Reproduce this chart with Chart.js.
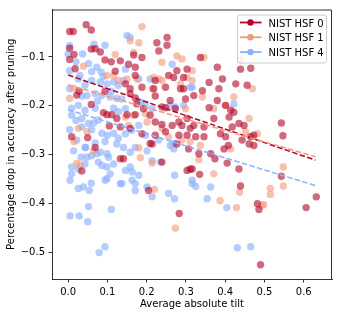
<!DOCTYPE html>
<html>
<head>
<meta charset="utf-8">
<script src="https://cdn.jsdelivr.net/npm/chart.js@4.4.1/dist/chart.umd.min.js"></script>
<style>
html,body{margin:0;padding:0;background:#fff;}
canvas{display:block;}
</style>
</head>
<body>
<canvas id="c" width="338" height="317"></canvas>
<script>
const seriesLabels = ['NIST HSF 0', 'NIST HSF 1', 'NIST HSF 4'];
const xTicks = [0.0, 0.1, 0.2, 0.3, 0.4, 0.5, 0.6];
const yTicks = [-0.5, -0.4, -0.3, -0.2, -0.1];

const hsf0 = [
[0.004,-0.048],[0.013,-0.048],[0.046,-0.034],[0.059,-0.045],[0.004,-0.082],[0.015,-0.095],[0.004,-0.105],[0.018,-0.124],[0.059,-0.084],[0.069,-0.083],[0.082,-0.090],[0.094,-0.106],[0.110,-0.110],[0.120,-0.129],[0.133,-0.108],[0.028,-0.170],[0.022,-0.178],[0.094,-0.170],[0.059,-0.197],[0.090,-0.214],[0.099,-0.218],[0.111,-0.218],[0.105,-0.241],[0.124,-0.226],[0.009,-0.263],[0.050,-0.265],[0.133,-0.243],
[0.226,-0.071],[0.231,-0.088],[0.252,-0.060],[0.252,-0.076],[0.167,-0.096],[0.188,-0.101],[0.154,-0.115],[0.171,-0.121],[0.171,-0.138],[0.146,-0.155],[0.158,-0.165],[0.158,-0.175],[0.188,-0.162],[0.222,-0.148],[0.218,-0.165],[0.248,-0.162],[0.256,-0.138],[0.269,-0.142],[0.277,-0.128],[0.294,-0.142],[0.303,-0.125],[0.286,-0.165],[0.294,-0.165],[0.299,-0.186],[0.171,-0.184],[0.175,-0.196],[0.192,-0.206],[0.222,-0.180],[0.239,-0.202],[0.248,-0.204],[0.260,-0.189],[0.273,-0.206],[0.150,-0.218],[0.171,-0.218],[0.209,-0.219],[0.222,-0.233],[0.239,-0.238],[0.282,-0.233],[0.290,-0.240],[0.303,-0.226],[0.265,-0.240],[0.158,-0.246],[0.188,-0.257],[0.222,-0.260],[0.248,-0.253],[0.282,-0.260],[0.303,-0.260],[0.311,-0.246],[0.209,-0.277],
[0.337,-0.101],[0.380,-0.121],[0.439,-0.125],[0.465,-0.123],[0.393,-0.145],[0.342,-0.169],[0.359,-0.152],[0.384,-0.165],[0.427,-0.155],[0.456,-0.158],[0.320,-0.179],[0.380,-0.189],[0.401,-0.199],[0.359,-0.204],[0.414,-0.209],[0.422,-0.213],[0.371,-0.226],[0.410,-0.223],[0.435,-0.236],[0.448,-0.240],[0.320,-0.240],[0.346,-0.243],[0.418,-0.243],[0.325,-0.263],[0.346,-0.263],[0.388,-0.257],[0.401,-0.263],[0.443,-0.270],[0.465,-0.263],[0.473,-0.260],
[0.543,-0.235],[0.547,-0.261],
[0.069,-0.285],[0.035,-0.333],[0.133,-0.308],
[0.141,-0.308],[0.239,-0.315],[0.205,-0.373],[0.303,-0.332],[0.311,-0.329],[0.307,-0.288],[0.283,-0.420],[0.214,-0.278],[0.277,-0.278],
[0.333,-0.298],[0.363,-0.298],[0.374,-0.308],[0.397,-0.288],[0.408,-0.281],[0.405,-0.317],[0.435,-0.329],[0.316,-0.329],[0.335,-0.340],[0.439,-0.364],[0.482,-0.400],[0.486,-0.412],[0.490,-0.525],[0.461,-0.278],[0.473,-0.281],
[0.543,-0.344],[0.632,-0.386],[0.606,-0.408]
];

const hsf1 = [
[0.039,-0.119],[0.120,-0.095],[0.116,-0.138],[0.099,-0.138],[0.004,-0.185],[0.013,-0.164],[0.026,-0.246],[0.048,-0.253],[0.015,-0.273],[0.128,-0.148],
[0.188,-0.038],[0.158,-0.067],[0.180,-0.071],[0.167,-0.091],[0.239,-0.111],[0.277,-0.098],[0.290,-0.104],[0.150,-0.145],[0.175,-0.145],[0.218,-0.142],[0.231,-0.145],[0.239,-0.148],[0.214,-0.165],[0.303,-0.142],[0.286,-0.155],[0.146,-0.223],[0.167,-0.219],[0.197,-0.216],[0.299,-0.206],[0.154,-0.240],[0.201,-0.233],[0.239,-0.246],[0.256,-0.263],[0.290,-0.270],[0.311,-0.273],
[0.346,-0.101],[0.316,-0.128],[0.342,-0.182],[0.371,-0.206],[0.401,-0.199],[0.422,-0.182],[0.469,-0.165],[0.461,-0.226],[0.452,-0.253],[0.482,-0.257],[0.439,-0.106],[0.316,-0.148],
[0.022,-0.317],[0.031,-0.322],[0.065,-0.292],
[0.180,-0.286],[0.184,-0.306],[0.214,-0.317],[0.220,-0.371],[0.273,-0.450],
[0.337,-0.281],[0.333,-0.310],[0.414,-0.288],[0.371,-0.339],[0.437,-0.376],[0.387,-0.394],[0.429,-0.408],[0.494,-0.403],
[0.548,-0.325],[0.548,-0.364],[0.515,-0.369],[0.515,-0.381],[0.498,-0.402]
];

const hsf4 = [
[0.004,-0.077],[0.000,-0.094],[0.037,-0.094],[0.066,-0.074],[0.094,-0.076],[0.004,-0.128],[0.030,-0.138],[0.052,-0.114],[0.073,-0.121],[0.084,-0.131],[0.026,-0.145],[0.043,-0.158],[0.060,-0.148],[0.082,-0.151],[0.099,-0.155],[0.116,-0.151],[0.128,-0.158],[0.004,-0.165],[0.048,-0.179],[0.069,-0.175],[0.086,-0.179],[0.107,-0.182],[0.124,-0.185],[0.009,-0.205],[0.026,-0.199],[0.043,-0.209],[0.069,-0.205],[0.009,-0.219],[0.035,-0.226],[0.052,-0.236],[0.077,-0.229],[0.116,-0.205],[0.128,-0.212],[0.004,-0.249],[0.035,-0.243],[0.060,-0.249],[0.086,-0.256],[0.116,-0.256],[0.128,-0.266],[0.022,-0.270],[0.069,-0.276],[0.094,-0.273],
[0.020,-0.110],[0.060,-0.130],[0.090,-0.140],[0.035,-0.180],[0.075,-0.190],[0.110,-0.170],[0.020,-0.230],[0.065,-0.235],[0.100,-0.260],[0.045,-0.285],
[0.150,-0.056],[0.158,-0.060],[0.265,-0.115],[0.146,-0.125],[0.141,-0.148],[0.180,-0.145],[0.209,-0.145],[0.137,-0.186],[0.146,-0.206],[0.184,-0.192],[0.197,-0.196],[0.214,-0.206],[0.260,-0.199],[0.273,-0.202],[0.294,-0.199],[0.146,-0.257],[0.162,-0.250],[0.180,-0.240],[0.197,-0.260],[0.231,-0.270],[0.269,-0.277],[0.311,-0.162],
[0.422,-0.196],[0.316,-0.162],
[0.014,-0.292],[0.043,-0.285],[0.009,-0.325],[0.009,-0.339],[0.026,-0.329],[0.043,-0.319],[0.048,-0.305],[0.060,-0.302],[0.073,-0.298],[0.082,-0.295],[0.099,-0.298],[0.103,-0.305],[0.077,-0.315],[0.086,-0.322],[0.099,-0.325],[0.116,-0.319],[0.107,-0.339],[0.099,-0.349],[0.094,-0.352],[0.005,-0.352],[0.026,-0.369],[0.039,-0.366],[0.054,-0.373],[0.059,-0.358],[0.052,-0.406],[0.005,-0.425],[0.028,-0.425],[0.050,-0.437],[0.110,-0.412],[0.094,-0.488],[0.079,-0.500],[0.133,-0.359],[0.124,-0.278],[0.033,-0.305],
[0.141,-0.285],[0.158,-0.295],[0.171,-0.285],[0.201,-0.292],[0.260,-0.281],[0.269,-0.288],[0.146,-0.332],[0.158,-0.325],[0.163,-0.335],[0.180,-0.342],[0.163,-0.352],[0.171,-0.359],[0.171,-0.373],[0.137,-0.359],[0.201,-0.366],[0.214,-0.386],[0.256,-0.379],[0.271,-0.390],[0.271,-0.342],[0.316,-0.359],[0.214,-0.312],[0.235,-0.315],
[0.316,-0.352],[0.325,-0.365],[0.363,-0.366],[0.354,-0.390],[0.404,-0.408],[0.431,-0.490],[0.465,-0.488]
];

// linear-fit end points
const fitX = [0.0, 0.63];
const fit0 = [-0.137, -0.311];
const fit1 = [-0.157, -0.304];
const fit4 = [-0.208, -0.363];

const colors = ['rgb(180,4,38)', 'rgb(244,152,122)', 'rgb(141,176,254)'];
const fills = ['rgba(180,4,38,0.6)', 'rgba(244,152,122,0.6)', 'rgba(141,176,254,0.65)'];

const toPts = arr => arr.map(p => ({x: p[0], y: p[1]}));
const fitPts = ys => fitX.map((x, i) => ({x: x, y: ys[i]}));
const fmt = v => {
  const s = Number(v).toFixed(1);
  return s.replace('-', '\u2212');
};

Chart.defaults.font.family = "'DejaVu Sans', sans-serif";
Chart.defaults.font.size = 10;
Chart.defaults.color = '#000';

const scatterSets = [hsf0, hsf1, hsf4].map((d, i) => ({
  type: 'scatter',
  label: seriesLabels[i],
  data: toPts(d),
  backgroundColor: fills[i],
  borderWidth: 0,
  pointRadius: 3.7,
  pointHoverRadius: 3.7,
  order: 10 + i
}));
const fitSets = [fit0, fit1, fit4].map((d, i) => ({
  type: 'line',
  label: seriesLabels[i] + ' fit',
  data: fitPts(d),
  borderColor: colors[i],
  borderWidth: 1.5,
  borderDash: [5.5, 2.4],
  pointRadius: 0,
  fill: false,
  order: 3 - i
}));

const framePlugin = {
  id: 'frame',
  afterDraw(chart) {
    const {ctx, chartArea: a} = chart;
    ctx.save();
    ctx.strokeStyle = '#000';
    ctx.lineWidth = 0.8;
    ctx.beginPath();
    ctx.moveTo(a.left, a.top + 0.5);
    ctx.lineTo(a.right - 0.5, a.top + 0.5);
    ctx.lineTo(a.right - 0.5, a.bottom);
    ctx.stroke();
    ctx.restore();
  }
};

const legendPlugin = {
  id: 'mplLegend',
  afterDraw(chart) {
    const {ctx, chartArea: a} = chart;
    const w = 89, h = 48;
    const x0 = a.right - 6 - w, y0 = a.top + 5;
    ctx.save();
    ctx.beginPath();
    if (ctx.roundRect) ctx.roundRect(x0 + 0.5, y0 + 0.5, w, h, 2.5); else ctx.rect(x0 + 0.5, y0 + 0.5, w, h);
    ctx.fillStyle = 'rgba(255,255,255,0.8)';
    ctx.fill();
    ctx.strokeStyle = '#cccccc';
    ctx.lineWidth = 1;
    ctx.stroke();
    ctx.font = "10px 'DejaVu Sans', sans-serif";
    ctx.textBaseline = 'alphabetic';
    ctx.textAlign = 'left';
    seriesLabels.forEach((lab, i) => {
      const cy = y0 + 8 + i * 14.8;
      ctx.strokeStyle = colors[i];
      ctx.lineWidth = 1.8;
      ctx.beginPath();
      ctx.moveTo(x0 + 3, cy);
      ctx.lineTo(x0 + 24.5, cy);
      ctx.stroke();
      ctx.fillStyle = colors[i];
      ctx.beginPath();
      ctx.arc(x0 + 13.5, cy, 3.2, 0, Math.PI * 2);
      ctx.fill();
      ctx.fillStyle = '#000';
      ctx.fillText(lab, x0 + 31.5, cy + 4);
    });
    ctx.restore();
  }
};

new Chart(document.getElementById('c'), {
  data: {datasets: [...scatterSets, ...fitSets]},
  options: {
    responsive: false,
    animation: false,
    devicePixelRatio: 1,
    layout: {padding: {top: 7, right: 6, left: 0, bottom: 0}},
    plugins: {legend: {display: false}, tooltip: {enabled: false}},
    scales: {
      x: {
        type: 'linear',
        position: 'bottom',
        min: -0.041,
        max: 0.672,
        afterBuildTicks: s => { s.ticks = xTicks.map(v => ({value: v})); },
        afterFit: s => { s.height = 38; },
        ticks: {callback: v => fmt(v), padding: 3.5, maxRotation: 0, autoSkip: false, color: '#000', font: {size: 10}},
        grid: {display: true, drawOnChartArea: false, drawTicks: true, tickLength: 3.5, tickWidth: 0.8, color: '#000', tickColor: '#000'},
        border: {display: true, color: '#000', width: 0.8},
        title: {display: true, text: 'Average absolute tilt', color: '#000', font: {size: 10}, padding: {top: 0, bottom: 7}}
      },
      y: {
        type: 'linear',
        position: 'left',
        min: -0.554,
        max: -0.003,
        afterBuildTicks: s => { s.ticks = yTicks.map(v => ({value: v})); },
        afterFit: s => { s.width = 52; },
        ticks: {callback: v => fmt(v), padding: 3.5, autoSkip: false, color: '#000', font: {size: 10}},
        grid: {display: true, drawOnChartArea: false, drawTicks: true, tickLength: 3.5, tickWidth: 0.8, color: '#000', tickColor: '#000'},
        border: {display: true, color: '#000', width: 0.8},
        title: {display: true, text: 'Percentage drop in accuracy after pruning', color: '#000', font: {size: 10}, padding: {top: 5.5, bottom: 0}}
      }
    }
  },
  plugins: [framePlugin, legendPlugin]
});
</script>
</body>
</html>
